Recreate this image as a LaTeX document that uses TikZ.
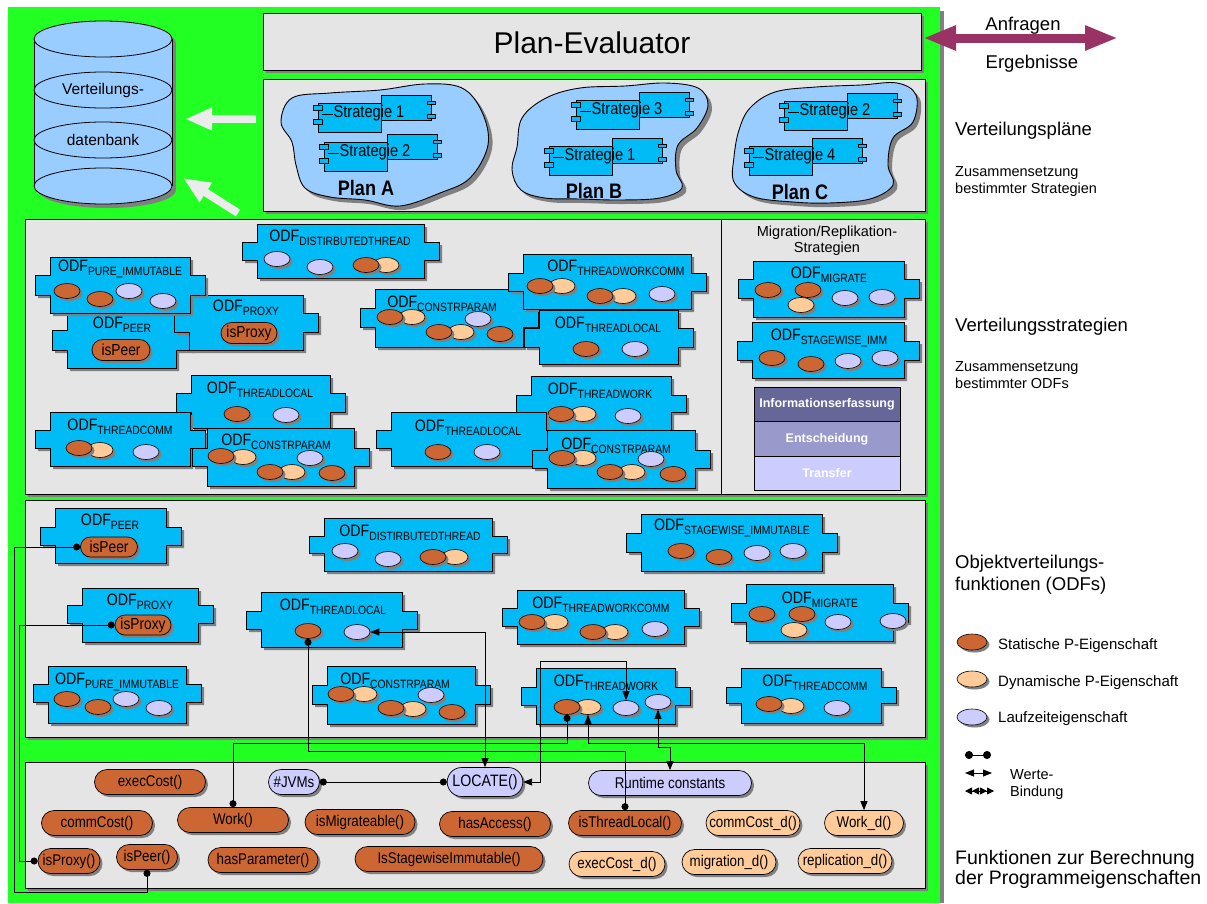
\documentclass[tikz,border=0pt]{standalone}
\usepackage{fontspec}
\setmainfont{Liberation Sans}
\newfontfamily\condfont[FakeStretch=0.86]{Liberation Sans}
\usetikzlibrary{arrows.meta,shapes.geometric,shapes.misc,shadows}

\definecolor{bggreen}{RGB}{34,255,34}
\definecolor{panelgrey}{RGB}{229,229,229}
\definecolor{shadowgrey}{RGB}{128,128,128}
\definecolor{odfblue}{RGB}{0,187,245}
\definecolor{statbrown}{RGB}{204,102,51}
\definecolor{dynpeach}{RGB}{255,204,153}
\definecolor{runlav}{RGB}{204,204,255}
\definecolor{blobblue}{RGB}{153,204,255}
\definecolor{plum}{RGB}{153,51,102}
\definecolor{whitearrow}{RGB}{236,236,236}
\definecolor{infodark}{RGB}{102,102,153}
\definecolor{infomid}{RGB}{153,153,204}
\definecolor{infolight}{RGB}{204,204,255}

\newcommand\fsz[1]{\fontsize{#1}{#1}\selectfont}
\newcommand\odf[1]{ODF\raisebox{-4pt}{\fsz{12}#1}}

% outline of an ODF block: body (#1,#2)-(#3,#4), side tabs between #5 and #6
\newcommand\odfpath[6]{(#1,#2) -- (#3,#2) -- (#3,#5) -- ({#3+15},#5) -- ({#3+15},#6) -- (#3,#6) -- (#3,#4) -- (#1,#4) -- (#1,#6) -- ({#1-15},#6) -- ({#1-15},#5) -- (#1,#5) -- cycle}
\newcommand\odfbox[6]{%
  \fill[shadowgrey,shift={(3,3)}] \odfpath{#1}{#2}{#3}{#4}{#5}{#6};
  \filldraw[odfface] \odfpath{#1}{#2}{#3}{#4}{#5}{#6};}

% UML-like component carrying a strategy name
\newcommand\strategy[4]{%
  \begin{scope}[shift={(#2,#3)}]
    \filldraw[comp] (12,-18) rectangle (62,7);
    \filldraw[comp] (58,-12) rectangle (66,-9);
    \filldraw[comp] (58,1) rectangle (66,5);
    \filldraw[comp] (-51,-10) rectangle (12,19);
    \filldraw[comp] (-56,-8) rectangle (-47,-3);
    \filldraw[comp] (-56,6) rectangle (-47,11);
    \draw[line width=0.6pt] (-47,1) -- (-36,1);
    \node[font=\condfont\fsz{17},inner sep=0pt] (#1) at (0,0) {#4};
  \end{scope}}

\begin{document}
\begin{tikzpicture}[x=1pt,y=-1pt,
  panel/.style={fill=panelgrey,draw=black,line width=0.8pt},
  odfface/.style={fill=odfblue,draw=black,line width=0.8pt},
  comp/.style={fill=odfblue,draw=black,line width=0.6pt},
  blob/.style={fill=blobblue,draw=black,line width=0.9pt},
  dbpart/.style={fill=blobblue,draw=black,line width=0.8pt},
  pshade/.style={drop shadow={shadow xshift=2.5pt,shadow yshift=-2.5pt,fill=shadowgrey,opacity=1}},
  prop/.style={ellipse,draw=black,line width=0.6pt,minimum width=26pt,minimum height=15pt,inner sep=0pt,pshade},
  propS/.style={prop,fill=statbrown},
  propD/.style={prop,fill=dynpeach},
  propR/.style={prop,fill=runlav},
  fn/.style={rounded rectangle,draw=black,line width=0.7pt,minimum height=25pt,inner xsep=3pt,inner ysep=0pt,font=\condfont\fsz{15.5},pshade},
  fnS/.style={fn,fill=statbrown},
  fnD/.style={fn,fill=dynpeach},
  fnR/.style={fn,fill=runlav},
  odflbl/.style={inner sep=0pt,font=\condfont\fsz{16.5}},
  sidetext/.style={anchor=base west,inner sep=0pt},
  bindline/.style={line width=0.8pt},
  dotbind/.style={bindline,{Circle[length=7pt]}-{Circle[length=7pt]}},
  arrbind/.style={bindline,{Triangle[length=9pt,width=7pt]}-{Triangle[length=9pt,width=7pt]}},
  info/.style={draw=black,line width=0.7pt,minimum width=146pt,minimum height=34.5pt,inner sep=0pt,font=\fsz{12.5}\bfseries,text=white}
]
\useasboundingbox (0,0) rectangle (1207,903);

% ---------- green backdrop ----------
\fill[shadowgrey] (940,11) rectangle (944,903);
\fill[bggreen] (8,7) rectangle (940,903);

% ---------- panels ----------
\fill[shadowgrey] (266,16) rectangle (924,73);
\draw[panel] (263,13) rectangle (921,70);
\node[font=\fsz{30},inner sep=0pt] (planeval) at (592,43) {Plan-Evaluator};

\fill[shadowgrey] (266,82) rectangle (928,214);
\draw[panel] (263,79) rectangle (925,211);

\fill[shadowgrey] (28,222) rectangle (928,497);
\draw[panel] (25,219) rectangle (925,494);
\draw[line width=0.8pt] (721,219) -- (721,494);

\fill[shadowgrey] (28,503) rectangle (928,740);
\draw[panel] (25,500) rectangle (925,737);

\fill[shadowgrey] (28,765) rectangle (928,891);
\draw[panel] (25,762) rectangle (925,888);

% ---------- distribution database ----------
\fill[shadowgrey] (38,43) rectangle (176,190);
\fill[shadowgrey] (107,190) ellipse [x radius=69pt,y radius=18pt];
\fill[shadowgrey] (107,43) ellipse [x radius=69pt,y radius=18pt];
\fill[blobblue] (34,39) rectangle (172,186);
\draw[line width=0.8pt] (34,39) -- (34,186) (172,39) -- (172,186);
\filldraw[dbpart] (103,186) ellipse [x radius=69pt,y radius=18pt];
\filldraw[dbpart] (103,140) ellipse [x radius=69pt,y radius=18pt];
\filldraw[dbpart] (103,90) ellipse [x radius=69pt,y radius=18pt];
\filldraw[dbpart] (103,39) ellipse [x radius=69pt,y radius=18pt];
\node[font=\fsz{15.5}] (dbA) at (103,90) {Verteilungs-};
\node[font=\fsz{15.5}] (dbB) at (103,140) {datenbank};

% white arrows into the database
\coordinate (waA1) at (256,119);
\coordinate (waA2) at (185,119);
\coordinate (waB1) at (238,213);
\coordinate (waB2) at (183,178);
\draw[whitearrow,line width=8pt,-{Triangle[length=27pt,width=21pt]}] (waA1) -- (waA2);
\draw[whitearrow,line width=8pt,-{Triangle[length=27pt,width=21pt]}] (waB1) -- (waB2);

% requests / results arrow
\coordinate (reqL) at (923,38);
\coordinate (reqR) at (1118,38);
\draw[plum,line width=9pt,{Triangle[length=33pt,width=23pt]}-{Triangle[length=33pt,width=23pt]}] (reqL) -- (reqR);
\node[font=\fsz{18.5},inner sep=0pt,anchor=base] (anfr) at (1023,30) {Anfragen};
\node[font=\fsz{18.5},inner sep=0pt,anchor=base] (ergb) at (1032,68) {Ergebnisse};

% ---------- distribution plans ----------
\fill[shadowgrey,shift={(4,4)}] plot[smooth cycle,tension=0.6] coordinates {(281,122) (292,98) (330,93) (380,90) (425,84) (462,88) (482,112) (488,145) (470,178) (440,193) (400,206) (365,200) (330,197) (305,188) (296,165) (292,142)};
\filldraw[blob] plot[smooth cycle,tension=0.6] coordinates {(281,122) (292,98) (330,93) (380,90) (425,84) (462,88) (482,112) (488,145) (470,178) (440,193) (400,206) (365,200) (330,197) (305,188) (296,165) (292,142)};
\fill[shadowgrey,shift={(4,4)}] plot[smooth cycle,tension=0.6] coordinates {(517,147) (522,118) (546,98) (580,88) (625,86) (665,83) (698,88) (708,105) (697,128) (678,145) (676,170) (682,188) (660,198) (620,200) (580,199) (545,198) (521,190) (512,170)};
\filldraw[blob] plot[smooth cycle,tension=0.6] coordinates {(517,147) (522,118) (546,98) (580,88) (625,86) (665,83) (698,88) (708,105) (697,128) (678,145) (676,170) (682,188) (660,198) (620,200) (580,199) (545,198) (521,190) (512,170)};
\fill[shadowgrey,shift={(4,4)}] plot[smooth cycle,tension=0.6] coordinates {(734,157) (739,130) (750,108) (775,92) (816,87) (861,85) (897,83) (916,95) (913,122) (893,138) (888,165) (893,185) (870,199) (829,203) (793,202) (754,197) (734,182)};
\filldraw[blob] plot[smooth cycle,tension=0.6] coordinates {(734,157) (739,130) (750,108) (775,92) (816,87) (861,85) (897,83) (916,95) (913,122) (893,138) (888,165) (893,185) (870,199) (829,203) (793,202) (754,197) (734,182)};

\strategy{sA1}{369}{113}{Strategie 1}
\strategy{sA2}{375}{152}{Strategie 2}
\strategy{sB3}{627}{110}{Strategie 3}
\strategy{sB1}{600}{156}{Strategie 1}
\strategy{sC2}{835}{111}{Strategie 2}
\strategy{sC4}{800}{156}{Strategie 4}
\node[font=\condfont\fsz{21}\bfseries,inner sep=0pt] (planA) at (366,188) {Plan A};
\node[font=\condfont\fsz{21}\bfseries,inner sep=0pt] (planB) at (594,191) {Plan B};
\node[font=\condfont\fsz{21}\bfseries,inner sep=0pt] (planC) at (800,192) {Plan C};

% ---------- distribution strategies ----------
\odfbox{257}{224}{424}{278}{242}{260}
\node[odflbl] (t1l) at (340,238) {\odf{DISTIRBUTEDTHREAD}};
\node[propR] (t1a) at (277,259) {};
\node[propR] (t1b) at (320,267) {};
\node[propD] (t1c) at (386,265) {};
\node[propS] (t1d) at (366,265) {};

% PEER block lies partly under PURE_IMMUTABLE; its label goes on top afterwards
\odfbox{67}{297}{176}{368}{330}{350}
\node[fnS,minimum width=64pt,minimum height=21pt,font=\condfont\fsz{16}] (t2o) at (121,350) {isPeer};

\odfbox{189}{295}{303}{350}{313}{332}
\node[odflbl] (t3l) at (246,308) {\odf{PROXY}};
\node[fnS,minimum width=62pt,minimum height=21pt,font=\condfont\fsz{16}] (t3o) at (249,333) {isProxy};

\odfbox{50}{257}{190}{313}{275}{295}
\node[odflbl] (t4l) at (120,269) {\odf{PURE\_IMMUTABLE}};
\node[propS] (t4a) at (67,291) {};
\node[propS] (t4b) at (100,299) {};
\node[propR] (t4c) at (129,291) {};
\node[propR] (t4d) at (163,301) {};
\node[odflbl] (t2l) at (122,325) {\odf{PEER}};

\odfbox{375}{289}{523}{347}{308}{327}
\node[odflbl] (t5l) at (442,304) {\odf{CONSTRPARAM}};
\node[propD] (t5a) at (412,317) {};
\node[propS] (t5b) at (390,317) {};
\node[propR] (t5c) at (478,319) {};
\node[propD] (t5d) at (461,332) {};
\node[propS] (t5e) at (439,332) {};
\node[propS] (t5f) at (500,334) {};

\odfbox{523}{254}{691}{309}{273}{291}
\node[odflbl] (t6l) at (616,268) {\odf{THREADWORKCOMM}};
\node[propD] (t6a) at (562,286) {};
\node[propS] (t6b) at (540,286) {};
\node[propD] (t6c) at (623,296) {};
\node[propS] (t6d) at (600,296) {};
\node[propR] (t6e) at (662,294) {};

\odfbox{539}{310}{678}{364}{328}{347}
\node[odflbl] (t7l) at (608,325) {\odf{THREADLOCAL}};
\node[propS] (t7a) at (586,349) {};
\node[propR] (t7b) at (635,349) {};

\odfbox{191}{375}{330}{428}{393}{412}
\node[odflbl] (t8l) at (260,390) {\odf{THREADLOCAL}};
\node[propS] (t8a) at (237,414) {};
\node[propR] (t8b) at (286,415) {};

\odfbox{50}{412}{190}{466}{430}{448}
\node[odflbl] (t9l) at (120,427) {\odf{THREADCOMM}};
\node[propD] (t9a) at (100,450) {};
\node[propS] (t9b) at (79,448) {};
\node[propR] (t9c) at (146,452) {};

\odfbox{207}{428}{354}{486}{448}{466}
\node[odflbl] (t10l) at (276,442) {\odf{CONSTRPARAM}};
\node[propD] (t10a) at (243,457) {};
\node[propS] (t10b) at (221,456) {};
\node[propR] (t10c) at (310,458) {};
\node[propD] (t10d) at (292,472) {};
\node[propS] (t10e) at (270,472) {};
\node[propS] (t10f) at (332,473) {};

\odfbox{531}{376}{671}{430}{395}{412}
\node[odflbl] (t11l) at (600,391) {\odf{THREADWORK}};
\node[propD] (t11a) at (583,414) {};
\node[propS] (t11b) at (561,414) {};
\node[propR] (t11c) at (628,416) {};

\odfbox{391}{412}{546}{466}{430}{448}
\node[odflbl] (t12l) at (468,428) {\odf{THREADLOCAL}};
\node[propS] (t12a) at (438,452) {};
\node[propR] (t12b) at (487,452) {};

\odfbox{547}{430}{695}{488}{450}{468}
\node[odflbl] (t13l) at (616,446) {\odf{CONSTRPARAM}};
\node[propD] (t13a) at (583,458) {};
\node[propS] (t13b) at (562,458) {};
\node[propR] (t13c) at (651,459) {};
\node[propD] (t13d) at (632,472) {};
\node[propS] (t13e) at (610,472) {};
\node[propS] (t13f) at (673,474) {};

% migration / replication strategies
\node[font=\fsz{14.5},inner sep=0pt] (migA) at (827,233) {Migration/Replikation-};
\node[font=\fsz{14.5},inner sep=0pt] (migB) at (827,249) {Strategien};

\odfbox{753}{261}{904}{317}{279}{298}
\node[odflbl] (t14l) at (829,275) {\odf{MIGRATE}};
\node[propS] (t14a) at (768,290) {};
\node[propS] (t14b) at (808,290) {};
\node[propD] (t14c) at (801,305) {};
\node[propR] (t14d) at (845,298) {};
\node[propR] (t14e) at (882,297) {};

\odfbox{752}{322}{904}{378}{341}{360}
\node[odflbl] (t15l) at (829,338) {\odf{STAGEWISE\_IMM}};
\node[propS] (t15a) at (772,358) {};
\node[propS] (t15b) at (811,364) {};
\node[propR] (t15c) at (848,361) {};
\node[propR] (t15d) at (885,358) {};

\node[info,fill=infodark] (infA) at (827,404.5) {Informationserfassung};
\node[info,fill=infomid] (infB) at (827,439) {Entscheidung};
\node[info,fill=infolight] (infC) at (827,473.5) {Transfer};

% ---------- object distribution functions ----------
\odfbox{55}{508}{166}{563}{527}{545}
\node[odflbl] (p1l) at (110,522) {\odf{PEER}};
\node[fnS,minimum width=63pt,minimum height=20pt,font=\condfont\fsz{16}] (pPeer) at (109,547) {isPeer};

\odfbox{82}{588}{198}{642}{605}{623}
\node[odflbl] (p2l) at (140,602) {\odf{PROXY}};
\node[fnS,minimum width=62pt,minimum height=20pt,font=\condfont\fsz{16}] (pProxy) at (143,625) {isProxy};

\odfbox{48}{666}{186}{723}{684}{702}
\node[odflbl] (p3l) at (117,682) {\odf{PURE\_IMMUTABLE}};
\node[propS] (p3a) at (67,699) {};
\node[propS] (p3b) at (98,707) {};
\node[propR] (p3c) at (126,699) {};
\node[propR] (p3d) at (159,708) {};

\odfbox{324}{518}{492}{571}{536}{553}
\node[odflbl] (p4l) at (410,533) {\odf{DISTIRBUTEDTHREAD}};
\node[propR] (p4a) at (345,551) {};
\node[propR] (p4b) at (388,559) {};
\node[propD] (p4c) at (455,557) {};
\node[propS] (p4d) at (433,557) {};

\odfbox{261}{592}{402}{647}{611}{629}
\node[odflbl] (p5l) at (333,607) {\odf{THREADLOCAL}};
\node[propS] (tlS) at (308,631) {};
\node[propR] (tlR) at (357,632) {};

\odfbox{327}{666}{475}{724}{685}{704}
\node[odflbl] (p6l) at (395,681) {\odf{CONSTRPARAM}};
\node[propD] (p6a) at (364,694) {};
\node[propS] (p6b) at (341,694) {};
\node[propR] (p6c) at (431,695) {};
\node[propD] (p6d) at (413,709) {};
\node[propS] (p6e) at (391,708) {};
\node[propS] (p6f) at (452,712) {};

\odfbox{517}{590}{684}{644}{608}{626}
\node[odflbl] (p7l) at (601,605) {\odf{THREADWORKCOMM}};
\node[propD] (p7a) at (555,622) {};
\node[propS] (p7b) at (532,622) {};
\node[propD] (p7c) at (615,632) {};
\node[propS] (p7d) at (593,632) {};
\node[propR] (p7e) at (655,629) {};

\odfbox{536}{668}{675}{724}{687}{705}
\node[odflbl] (p8l) at (606,683) {\odf{THREADWORK}};
\node[propD] (twD) at (588,707) {};
\node[propS] (twS) at (567,707) {};
\node[propR] (twR1) at (626,708) {};
\node[propR] (twR2) at (658,702) {};

\odfbox{641}{514}{822}{571}{533}{552}
\node[odflbl] (p9l) at (732,528) {\odf{STAGEWISE\_IMMUTABLE}};
\node[propS] (p9a) at (681,551) {};
\node[propS] (p9b) at (719,557) {};
\node[propR] (p9c) at (757,553) {};
\node[propR] (p9d) at (793,551) {};

\odfbox{746}{584}{893}{641}{603}{622}
\node[odflbl] (p10l) at (820,600) {\odf{MIGRATE}};
\node[propS] (p10a) at (762,614) {};
\node[propS] (p10b) at (802,614) {};
\node[propD] (p10c) at (794,630) {};
\node[propR] (p10d) at (838,622) {};
\node[propR] (p10e) at (893,621) {};

\odfbox{741}{668}{881}{723}{687}{703}
\node[odflbl] (p11l) at (815,683) {\odf{THREADCOMM}};
\node[propD] (p11a) at (791,706) {};
\node[propS] (p11b) at (769,704) {};
\node[propR] (p11c) at (837,708) {};

% ---------- property functions ----------
\node[fnS,minimum width=117pt] (fExec) at (150,782) {execCost()};
\node[fnR,minimum width=57pt] (fJVM) at (294,782) {\#JVMs};
\node[fnR,minimum width=74pt,minimum height=29pt,font=\condfont\fsz{16.5}] (fLocate) at (485,782) {LOCATE()};
\node[fnR,minimum width=169pt] (fRC) at (670,783) {Runtime constants};
\node[fnS,minimum width=117pt] (fComm) at (97,823) {commCost()};
\node[fnS,minimum width=117pt] (fWork) at (233,820) {Work()};
\node[fnS,minimum width=116pt] (fMig) at (360,822) {isMigrateable()};
\node[fnS,minimum width=117pt] (fAcc) at (495,824) {hasAccess()};
\node[fnS,minimum width=119pt] (fIsTL) at (625,823) {isThreadLocal()};
\node[fnD,minimum width=100pt] (fCommD) at (753,823) {commCost\_d()};
\node[fnD,minimum width=85pt] (fWorkD) at (864,823) {Work\_d()};
\node[fnS,minimum width=68pt] (fIsProxy) at (69,861) {isProxy()};
\node[fnS,minimum width=67pt] (fIsPeer) at (147,857) {isPeer()};
\node[fnS,minimum width=116pt] (fParam) at (263,860) {hasParameter()};
\node[fnS,minimum width=194pt] (fStage) at (449,859) {IsStagewiseImmutable()};
\node[fnD,minimum width=102pt] (fExecD) at (617,864) {execCost\_d()};
\node[fnD,minimum width=100pt] (fMigD) at (729,862) {migration\_d()};
\node[fnD,minimum width=100pt] (fRepD) at (845,861) {replication\_d()};

% ---------- value bindings ----------
\coordinate (railA) at (14,0);
\coordinate (railB) at (19,0);
\coordinate (railBot) at (0,892);
\coordinate (busTL) at (0,751);
\coordinate (busW) at (0,743);
\coordinate (busRC) at (0,747);
\coordinate (busLW) at (540,0);
\coordinate (busTW) at (0,661);

\draw[dotbind] (pPeer.west) -- (pPeer.west -| railA) -- (railA |- railBot) -| (fIsPeer.south);
\draw[dotbind] (pProxy.west) -- (pProxy.west -| railB) |- (fIsProxy.west);
\draw[dotbind] (tlS.south) -- (tlS.south |- busTL) -| (fIsTL.north);
\draw[arrbind] (tlR.east) -| (fLocate.north);
\draw[dotbind] (fJVM.east) -- (fLocate.west);
\draw[arrbind] (fLocate.east) -- (fLocate.east -| busLW) -- (busLW |- busTW) -| (twR1.north);
\draw[dotbind] (twS.south) -- (twS.south |- busW) -| (fWork.north);
\draw[arrbind] (twD.south) -- (twD.south |- busW) -| (fWorkD.north);
\draw[arrbind] (twR2.south) -- (twR2.south |- busRC) -| (fRC.north);

% ---------- captions and legend ----------
\node[sidetext,font=\fsz{18.5}] (capPlans) at (955,135) {Verteilungspläne};
\node[sidetext,font=\fsz{14.5}] (capPlansA) at (955,176) {Zusammensetzung};
\node[sidetext,font=\fsz{14.5}] (capPlansB) at (955,193) {bestimmter Strategien};
\node[sidetext,font=\fsz{18.5}] (capStrat) at (955,331) {Verteilungsstrategien};
\node[sidetext,font=\fsz{14.5}] (capStratA) at (955,371) {Zusammensetzung};
\node[sidetext,font=\fsz{14.5}] (capStratB) at (955,388) {bestimmter ODFs};
\node[sidetext,font=\fsz{18.5}] (capOdfA) at (955,568) {Objektverteilungs-};
\node[sidetext,font=\fsz{18.5}] (capOdfB) at (955,590) {funktionen (ODFs)};
\node[sidetext,font=\fsz{19.5}] (capFnA) at (955,864) {Funktionen zur Berechnung};
\node[sidetext,font=\fsz{19.5}] (capFnB) at (955,884) {der Programmeigenschaften};

\node[propS,minimum width=30pt,minimum height=16pt] (lgS) at (972,642) {};
\node[propD,minimum width=30pt,minimum height=16pt] (lgD) at (972,679) {};
\node[propR,minimum width=30pt,minimum height=16pt] (lgR) at (972,717) {};
\node[sidetext,font=\fsz{15}] (lgSt) at (998,649) {Statische P-Eigenschaft};
\node[sidetext,font=\fsz{15}] (lgDt) at (998,686) {Dynamische P-Eigenschaft};
\node[sidetext,font=\fsz{15}] (lgRt) at (998,722) {Laufzeiteigenschaft};

\coordinate (lgA1) at (965,755);
\coordinate (lgA2) at (991,755);
\coordinate (lgB1) at (965,773);
\coordinate (lgB2) at (992,773);
\coordinate (lgC1) at (965,791);
\coordinate (lgC2) at (994,791);
\draw[bindline,{Circle[length=8pt]}-{Circle[length=8pt]}] (lgA1) -- (lgA2);
\draw[arrbind] (lgB1) -- (lgB2);
\draw[bindline,{Triangle[length=7pt,width=7pt]Triangle[length=7pt,width=7pt]}-{Triangle[length=7pt,width=7pt]Triangle[length=7pt,width=7pt]}] (lgC1) -- (lgC2);
\node[sidetext,font=\fsz{14.5}] (lgWa) at (1010,779) {Werte-};
\node[sidetext,font=\fsz{14.5}] (lgWb) at (1010,796) {Bindung};

\end{tikzpicture}
\end{document}
